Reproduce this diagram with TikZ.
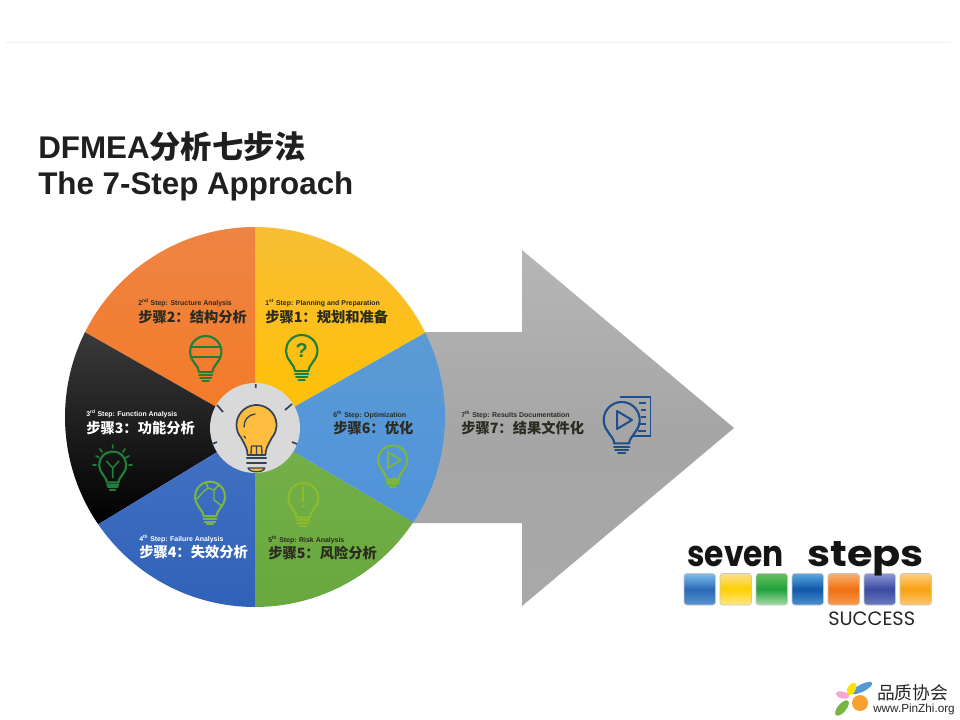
\documentclass[tikz,border=0pt]{standalone}
\usepackage{fontspec}
\setmainfont{Liberation Sans}
\newfontfamily\cjkf{Noto Sans CJK SC}
\newfontfamily\popf{Poppins}
\usetikzlibrary{calc}
\definecolor{hubgray}{HTML}{D9D9D9}
\definecolor{navy}{HTML}{34435A}
\definecolor{dkgreen}{HTML}{1F7F3A}
\definecolor{midgreen}{HTML}{79B543}
\definecolor{limeg}{HTML}{8DBB2C}
\definecolor{deepblue}{HTML}{1F4E8C}
\definecolor{inkdark}{HTML}{2B2B22}
\definecolor{bulbyellow}{HTML}{FFBD40}
\definecolor{logoorange}{HTML}{F8A030}
\definecolor{arrowtop}{HTML}{B6B6B6}
\definecolor{arrowmid}{HTML}{A6A6A6}
\definecolor{arrowbot}{HTML}{A8A8A8}
\tikzset{
  small/.style={anchor=west,inner sep=0pt,font=\bfseries\fontsize{5.2pt}{5.5pt}\selectfont},
  mainl/.style={anchor=west,inner sep=0pt,font=\cjkf\bfseries\fontsize{10.7pt}{11pt}\selectfont},
  title/.style={anchor=west,inner sep=0pt,font=\bfseries\fontsize{23.5pt}{25pt}\selectfont,text=black!88},
  sq/.style={rounded corners=2.2pt,draw=black!22,line width=0.5pt},
  logotext/.style={inner sep=0pt,anchor=base west,text=black!92,font=\popf\bfseries\fontsize{27pt}{27pt}\selectfont,transform shape},
}
\newcommand\sector[4]{\definecolor{tcA}{HTML}{#3}\definecolor{tcB}{HTML}{#4}\path[top color=tcA,bottom color=tcB] (255,429) -- ([shift={(255,417)}]#1:142.5pt) arc[start angle=#1,end angle=#2,radius=142.5pt] -- cycle;}
\newcommand\bulbicon[4]{%
 \begin{scope}[shift={(#1,#2)},x=#3*0.75pt,y=-#3*0.75pt,line width=1.6pt,line cap=round,line join=round]
  \draw[#4] ({cos(40)},{sin(40)}) arc[start angle=-40,end angle=220,radius=#3*0.75pt];
  \draw[#4] ({cos(40)},{sin(40)}) .. controls (.55,1) and (.42,1.05) .. (.42,1.3) -- (-.42,1.3) .. controls (-.42,1.05) and (-.55,1) .. ({-cos(40)},{sin(40)});
  \draw[#4] (-.42,1.48)--(.42,1.48) (-.36,1.66)--(.36,1.66) (-.2,1.84)--(.2,1.84);
 \end{scope}}
\newcommand\glass[4]{%
 \definecolor{gA}{HTML}{#2}\definecolor{gB}{HTML}{#3}\definecolor{gC}{HTML}{#4}%
 \path[sq,top color=gA,bottom color=gC,middle color=gB] (#1,573.5) rectangle ++(31.5,31.5);}
\begin{document}
\begin{tikzpicture}[x=0.75pt,y=-0.75pt]
\useasboundingbox (0,0) rectangle (960,720);
\fill[white] (0,0) rectangle (960,720);
\draw[line width=0.6pt,black!5] (5,42) -- (950,42);

% title
\node[title] (t1) at (38,147) {DFMEA{\cjkf\bfseries 分析七步法}};
\node[title] (t2) at (38,186.5) {The 7-Step Approach};

% arrow
\path[top color=arrowtop,bottom color=arrowbot,middle color=arrowmid] (400,332) -- (522,332) -- (522,250) -- (734,428) -- (522,606) -- (522,523) -- (400,523) -- cycle;

% wheel
\sector{26.3}{90}{F9BF35}{FFC000}
\sector{90}{153.5}{EE8443}{F47A26}
\sector{153.5}{214.4}{3A3A3A}{000000}
\sector{214.4}{270}{4472C4}{2F62B8}
\sector{270}{326.4}{76B04A}{68A83E}
\sector{-33.6}{26.3}{5B9BD5}{4F93DA}

% hub
\fill[hubgray] (255,428) circle[radius=45*0.75pt];
\draw[navy,line width=1.3pt] (255.7,384)--(255.7,388) (217,405)--(223,412) (292,404)--(285,410) (212,444)--(217,442) (297,444)--(292,442);
\begin{scope}[shift={(256.5,425)},x=20*0.75pt,y=-20*0.75pt,line width=1.3pt,line join=round,line cap=round]
 \path[fill=bulbyellow,draw=navy] ({cos(40)},{sin(40)}) arc[start angle=-40,end angle=220,radius=15pt] .. controls (-.55,1.05) and (-.45,1.2) .. (-.45,1.5) -- (.45,1.5) .. controls (.45,1.2) and (.55,1.05) .. ({cos(40)},{sin(40)});
 \draw[navy,line width=1pt] (-.28,1.5)--(-.25,1.05)--(.25,1.05)--(.28,1.5) (0,1.05)--(0,1.5);
 \draw[navy,line width=1pt] (-.62,.1) arc[start angle=185,end angle=95,radius=9pt];
 \draw[navy,line width=1pt] (-.62,.55)--(-.55,.65);
 \path[fill=bulbyellow,draw=navy,line width=1pt] (-.42,2.15)--(.42,2.15) .. controls (.35,2.4) and (-.35,2.4) .. (-.42,2.15);
 \draw[navy] (-.48,1.65)--(.48,1.65) (-.48,1.9)--(.48,1.9);
\end{scope}

% step icons
\bulbicon{301.7}{350.7}{15.7}{dkgreen}
\node[inner sep=0pt,text=dkgreen,font=\bfseries\fontsize{15pt}{15pt}\selectfont] (q) at (301.7,351) {?};
\bulbicon{205.7}{351.7}{15.7}{dkgreen}
\draw[dkgreen,line width=1.6pt] (191.5,347)--(220,347) (191.5,357)--(220,357);
\bulbicon{112.7}{465}{13.5}{dkgreen}
\draw[dkgreen,line width=1.2pt] (112.7,478)--(112.7,468) (106.5,461)--(112.7,468) (119,461)--(112.7,468);
\draw[dkgreen,line width=1.3pt,line cap=round] (112.7,445)--(112.7,448) (100,449)--(102,452) (125,449)--(123,452) (93,465)--(96,465) (129,465)--(132,465) (96,456)--(99,457.5) (129,456)--(126,457.5);
\bulbicon{210}{496.7}{15}{midgreen}
\draw[midgreen,line width=1.1pt,line join=round] (206,482)--(208,488)--(203,492)--(197,499) (208,488)--(214,490)--(214,500)--(222,506) (214,490)--(219,485);
\bulbicon{303.3}{498}{15}{limeg}
\draw[limeg,line width=1.7pt,line cap=round] (303.3,487)--(303.3,501) (303.3,506)--(303.3,506.5);
\bulbicon{392.7}{460}{14.5}{midgreen!80!limeg}
\draw[midgreen!80!limeg,line width=1.3pt,line join=round] (388,452)--(388,468)--(401,460)--cycle;
\draw[deepblue,line width=1.3pt] (620,397)--(650.5,397)--(650.5,436)--(632,436);
\draw[deepblue,line width=.9pt] (639,403)--(646,403) (641,410)--(646,410) (641,417)--(646,417) (640,424)--(646,424) (638,431)--(646,431);
\bulbicon{621.7}{420}{18}{deepblue}
\draw[deepblue,line width=1.5pt,line join=round] (617,411)--(617,429)--(632,420)--cycle;

% labels
\node[small,text=inkdark] (s1) at (265,303) {1\textsuperscript{st} Step: Planning and Preparation};
\node[mainl,text=inkdark] (m1) at (265,317) {步骤1：规划和准备};
\node[small,text=inkdark] (s2) at (138,303) {2\textsuperscript{nd} Step: Structure Analysis};
\node[mainl,text=inkdark] (m2) at (138,317) {步骤2：结构分析};
\node[small,text=white] (s3) at (86,414) {3\textsuperscript{rd} Step: Function Analysis};
\node[mainl,text=white] (m3) at (86,428) {步骤3：功能分析};
\node[small,text=white] (s4) at (139,539) {4\textsuperscript{th} Step: Failure Analysis};
\node[mainl,text=white] (m4) at (139,552) {步骤4：失效分析};
\node[small,text=inkdark] (s5) at (268,540) {5\textsuperscript{th} Step: Risk Analysis};
\node[mainl,text=inkdark] (m5) at (268,553) {步骤5：风险分析};
\node[small,text=inkdark] (s6) at (333,415) {6\textsuperscript{th} Step: Optimization};
\node[mainl,text=inkdark] (m6) at (333,428) {步骤6：优化};
\node[small,text=inkdark] (s7) at (461,415) {7\textsuperscript{th} Step: Results Documentation};
\node[mainl,text=inkdark] (m7) at (461,428) {步骤7：结果文件化};

% seven steps logo
\glass{684}{7CC0E8}{2A68B8}{5A94D0}
\glass{720}{FBE08A}{FFD000}{FFE888}
\glass{756}{66C05E}{1FA03C}{A8DCA8}
\glass{792}{5AA8E0}{1058A8}{4A90D0}
\glass{828}{F9B070}{F07010}{F89A50}
\glass{864}{8C98D8}{3A4AA0}{6C7CC4}
\glass{900}{FFD080}{F8A010}{FFC870}
\node[logotext,xscale=.87] (sv) at (687,566) {seven};
\node[logotext,xscale=1.15] (st) at (807,566) {steps};
\node[inner sep=0pt,anchor=base west,text=black!85,font=\popf\fontsize{14.5pt}{15pt}\selectfont] (su) at (828,625) {SUCCESS};

% pinzhi logo
\fill[logoorange] (860,703) circle[radius=8*0.75pt];
\fill[cyan!60!blue!70] (862,688) ellipse[x radius=8.5pt,y radius=2.8pt,rotate=27];
\fill[yellow!85!orange] (851.5,689) ellipse[x radius=5pt,y radius=3pt,rotate=60];
\fill[magenta!35] (842.5,695) ellipse[x radius=5pt,y radius=2.6pt,rotate=-15];
\fill[midgreen] (842,708) ellipse[x radius=7pt,y radius=3.2pt,rotate=50];
\node[inner sep=0pt,anchor=center,text=black!85,font=\cjkf\fontsize{13.3pt}{14pt}\selectfont] (pz) at (912.5,693) {品质协会};
\node[inner sep=0pt,anchor=center,text=black!85,font=\fontsize{8.8pt}{9pt}\selectfont] (pw) at (914,709) {www.PinZhi.org};
\end{tikzpicture}
\end{document}
